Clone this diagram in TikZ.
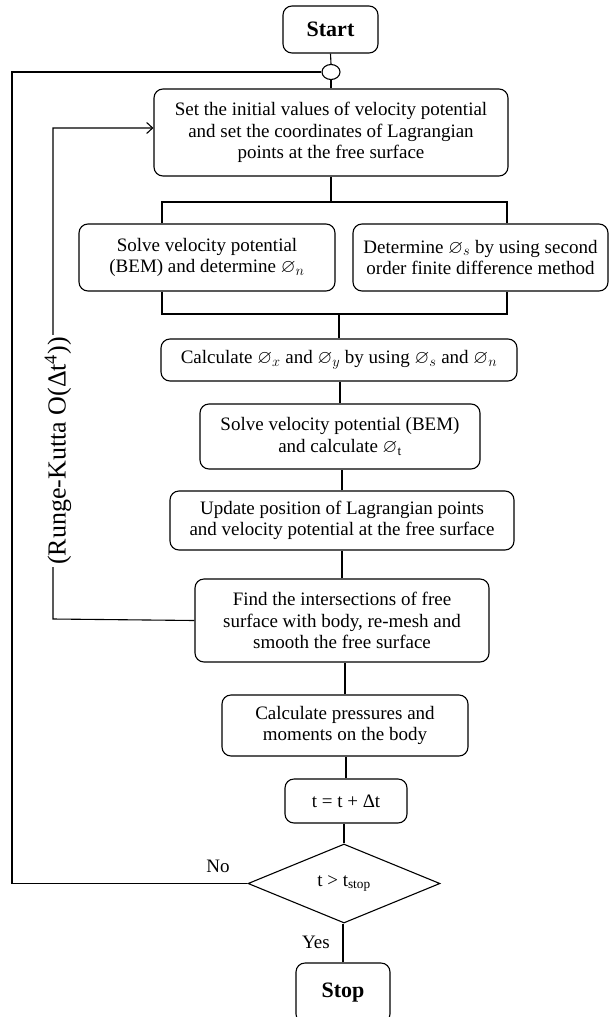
\documentclass[tikz,border=0pt]{standalone}
\usepackage{amssymb}
\usepackage{fontspec}
\setmainfont{Liberation Serif}
\usetikzlibrary{shapes.geometric,arrows.meta}

\begin{document}
\begin{tikzpicture}[x=1pt,y=-1pt,line width=1.1pt,
  every node/.style={font=\fontsize{19}{21.7}\selectfont},
  procbox/.style={draw,rounded corners=9pt,align=center,inner sep=2pt},
  termbox/.style={procbox,font=\fontsize{22}{26}\selectfont\bfseries},
  decbox/.style={draw,diamond,inner sep=0pt,minimum width=192pt,minimum height=79pt},
  joint/.style={draw,ellipse,inner sep=0pt,minimum width=18pt,minimum height=15pt},
  rklabel/.style={rotate=90,fill=white,inner sep=2pt,font=\fontsize{26}{30}\selectfont}]
\useasboundingbox (0,0) rectangle (610,1017);

\node[termbox,minimum width=95pt,minimum height=47pt] (start) at (330.5,29.5) {Start};
\node[joint] (jn) at (331,72) {};
\node[procbox,minimum width=354pt,minimum height=87pt] (init) at (331,132.5)
  {Set the initial values of velocity potential\\ and set the coordinates of Lagrangian\\ points at the free surface};
\node[procbox,minimum width=256pt,minimum height=67pt] (phin) at (207,257.5)
  {Solve velocity potential\\ (BEM) and determine $\varnothing_n$};
\node[procbox,minimum width=255pt,minimum height=67pt] (phis) at (480.5,257.5)
  {Determine $\varnothing_s$ by using second\\ order finite difference method};
\node[procbox,minimum width=356pt,minimum height=42pt] (phixy) at (339,360)
  {Calculate $\varnothing_x$ and $\varnothing_y$ by using $\varnothing_s$ and $\varnothing_n$};
\node[procbox,minimum width=280pt,minimum height=65pt] (phit) at (340,436.5)
  {Solve velocity potential (BEM)\\ and calculate $\varnothing_{\mathrm{t}}$};
\node[procbox,minimum width=344pt,minimum height=59pt] (update) at (342,520.5)
  {Update position of Lagrangian points\\ and velocity potential at the free surface};
\node[procbox,minimum width=294pt,minimum height=83pt] (remesh) at (342,620.5)
  {Find the intersections of free\\ surface with body, re-mesh and\\ smooth the free surface};
\node[procbox,minimum width=246pt,minimum height=61pt] (press) at (345,725.5)
  {Calculate pressures and\\ moments on the body};
\node[procbox,minimum width=122pt,minimum height=44pt] (tstep) at (346,801) {t = t + Δt};
\node[decbox] (check) at (344,883.5) {t > t\textsubscript{stop}};
\node[termbox,minimum width=94pt,minimum height=60pt] (stop) at (343,993) {Stop};

% top
\draw (start.south) -- (jn.north);
\draw (jn.south) -- (init.north);

% split and join
\coordinate (splitL) at (162,202);
\coordinate (splitR) at (507,202);
\coordinate (joinL) at (162,314);
\coordinate (joinR) at (507,314);
\draw (init.south) -- (init.south |- splitL);
\draw (phin.north -| splitL) -- (splitL) -- (splitR) -- (phis.north -| splitR);
\draw (phin.south -| joinL) -- (joinL) -- (joinR) -- (phis.south -| joinR);
\draw (phixy.north |- joinL) -- (phixy.north);

\foreach \a/\b in {phixy/phit,phit/update,update/remesh,remesh/press,press/tstep,tstep/check,check/stop}{
  \draw (\b.north) -- (\b.north |- \a.south);
}

% inner loop
\coordinate (rkbot) at (53,619);
\coordinate (rktop) at (53,128);
\draw[-{Straight Barb[length=6pt,width=11pt]}] (remesh.west) -- (rkbot) -- (rktop) -- (rktop -| init.west);
\node[rklabel] (rk) at (58,451) {(Runge-Kutta O(Δt\textsuperscript{4}))};

% outer loop
\coordinate (loopx) at (12,883.5);
\draw (jn.west) -| (loopx) -- (check.west);
\node (no) at (218,866) {No};
\node (yes) at (316,942) {Yes};
\end{tikzpicture}
\end{document}
